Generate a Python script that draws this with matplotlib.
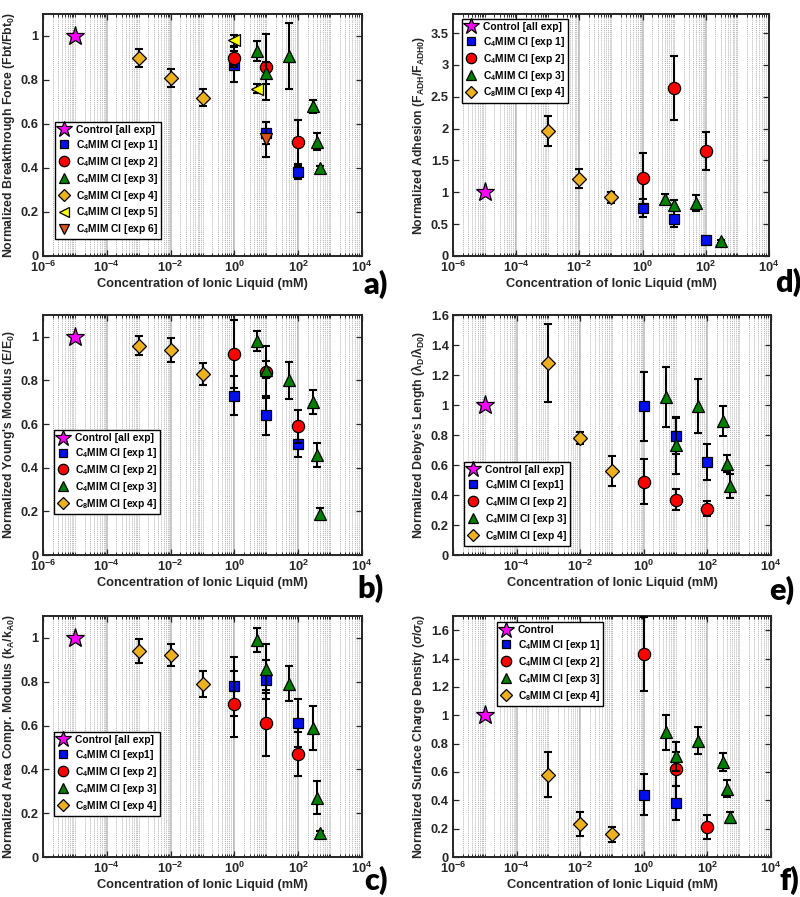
import matplotlib
matplotlib.use("Agg")
import matplotlib.pyplot as plt
from matplotlib.ticker import LogLocator, FixedLocator, FixedFormatter, FormatStrFormatter, NullFormatter, MultipleLocator

plt.rcParams['font.family'] = ['Liberation Sans', 'DejaVu Sans']
plt.rcParams['font.weight'] = 'bold'
plt.rcParams['mathtext.fontset'] = 'custom'
plt.rcParams['mathtext.rm'] = 'Liberation Sans:bold'
plt.rcParams['mathtext.it'] = 'Liberation Sans:italic:bold'
plt.rcParams['mathtext.bf'] = 'Liberation Sans:bold'
plt.rcParams['mathtext.default'] = 'regular'

# ---------------- data ----------------
conc_ctrl = [1e-5]
conc_exp1 = [1, 10, 100]
conc_exp2 = [1, 10, 100]
conc_exp3 = [5, 10, 50, 300, 400, 500]
conc_exp3_d = [5, 10, 50, 300]
conc_exp4 = [1e-3, 1e-2, 1e-1]
conc_exp5 = [1, 5]
conc_exp6 = [1, 10]
conc_exp1_f = [1, 10]

ctrl_val = [1.0]

# a) breakthrough force
a_exp1 = [0.87, 0.56, 0.38]; a_exp1_err = [0.08, 0.05, 0.03]
a_exp2 = [0.90, 0.86, 0.52]; a_exp2_err = [0.03, 0.15, 0.10]
a_exp3 = [0.93, 0.83, 0.91, 0.68, 0.52, 0.40]; a_exp3_err = [0.045, 0.05, 0.15, 0.03, 0.04, 0.01]
a_exp4 = [0.90, 0.81, 0.72]; a_exp4_err = [0.04, 0.04, 0.04]
a_exp5 = [0.98, 0.76]; a_exp5_err = [0.025, 0.02]
a_exp6 = [0.88, 0.53]; a_exp6_err = [0.02, 0.08]

# d) adhesion
d_exp1 = [0.75, 0.58, 0.25]; d_exp1_err = [0.14, 0.12, 0.03]
d_exp2 = [1.22, 2.64, 1.65]; d_exp2_err = [0.40, 0.50, 0.30]
d_exp3 = [0.89, 0.80, 0.83, 0.23]; d_exp3_err = [0.08, 0.08, 0.12, 0.02]
d_exp4 = [1.96, 1.21, 0.92]; d_exp4_err = [0.24, 0.15, 0.09]

# b) Young's modulus
b_exp1 = [0.73, 0.64, 0.51]; b_exp1_err = [0.09, 0.09, 0.06]
b_exp2 = [0.92, 0.84, 0.59]; b_exp2_err = [0.155, 0.12, 0.075]
b_exp3 = [0.98, 0.85, 0.80, 0.70, 0.46, 0.19]; b_exp3_err = [0.045, 0.04, 0.085, 0.055, 0.055, 0.025]
b_exp4 = [0.96, 0.94, 0.83]; b_exp4_err = [0.045, 0.055, 0.05]

# e) Debye length
e_exp1 = [0.99, 0.79, 0.62]; e_exp1_err = [0.23, 0.12, 0.12]
e_exp2 = [0.49, 0.37, 0.31]; e_exp2_err = [0.15, 0.07, 0.05]
e_exp3 = [1.05, 0.73, 0.99, 0.89, 0.61, 0.46]; e_exp3_err = [0.20, 0.19, 0.18, 0.10, 0.06, 0.08]
e_exp4 = [1.28, 0.78, 0.56]; e_exp4_err = [0.26, 0.04, 0.10]

# c) area compressibility modulus
c_exp1 = [0.78, 0.81, 0.61]; c_exp1_err = [0.135, 0.09, 0.11]
c_exp2 = [0.70, 0.61, 0.47]; c_exp2_err = [0.15, 0.15, 0.10]
c_exp3 = [0.99, 0.86, 0.79, 0.59, 0.27, 0.11]; c_exp3_err = [0.055, 0.11, 0.08, 0.10, 0.075, 0.01]
c_exp4 = [0.94, 0.92, 0.79]; c_exp4_err = [0.055, 0.05, 0.06]

# f) surface charge density
f_exp1 = [0.44, 0.38]; f_exp1_err = [0.145, 0.12]
f_exp2 = [1.43, 0.62, 0.21]; f_exp2_err = [0.26, 0.12, 0.085]
f_exp3 = [0.88, 0.71, 0.82, 0.67, 0.48, 0.28]; f_exp3_err = [0.125, 0.10, 0.095, 0.065, 0.06, 0.04]
f_exp4 = [0.58, 0.23, 0.16]; f_exp4_err = [0.16, 0.085, 0.055]

xtick_vals = [1e-6, 1e-4, 1e-2, 1e0, 1e2, 1e4]
xtick_labels = [r'$10^{-6}$', r'$10^{-4}$', r'$10^{-2}$', r'$10^{0}$', r'$10^{2}$', r'$10^{4}$']

lab_ctrl = 'Control [all exp]'
lab1 = 'C$_4$MIM Cl [exp 1]'
lab1b = 'C$_4$MIM Cl [exp1]'
lab2 = 'C$_4$MIM Cl [exp 2]'
lab3 = 'C$_4$MIM Cl [exp 3]'
lab4 = 'C$_8$MIM Cl [exp 4]'
lab5 = 'C$_4$MIM Cl [exp 5]'
lab6 = 'C$_4$MIM Cl [exp 6]'

# ---------------- styles ----------------
ST = {
    'ctrl': dict(marker='*', color='#FF00FF', ms=14),
    'e1': dict(marker='s', color='#0010F0', ms=7),
    'e2': dict(marker='o', color='#FF0000', ms=8.8),
    'e3': dict(marker='^', color='#008000', ms=9),
    'e4': dict(marker='D', color='#EDB120', ms=6.8),
    'e5': dict(marker='<', color='#FFFF00', ms=9),
    'e6': dict(marker='v', color='#D95319', ms=9),
}

W, H = 800, 897
fig = plt.figure(figsize=(W / 100, H / 100), dpi=100)


def make_ax(l, r, t, b):
    return fig.add_axes([l / W, 1 - b / H, (r - l) / W, (b - t) / H])


def series(ax, key, x, y, err, label, z):
    st = ST[key]
    if err is not None:
        ax.errorbar(x, y, yerr=err, fmt='none', ecolor='k', elinewidth=1.5,
                    capsize=2.6, capthick=1.5, zorder=z)
    h, = ax.plot(x, y, linestyle='none', marker=st['marker'], markersize=st['ms'],
                 markerfacecolor=st['color'], markeredgecolor='k', markeredgewidth=0.9,
                 zorder=z + 0.5, label=label)
    return h


def style_ax(ax, ylim, ystep, ylabel, hide_first=False):
    ax.set_xscale('log')
    ax.set_xlim(1e-6, 1e4)
    ax.set_ylim(*ylim)
    ax.xaxis.set_major_locator(FixedLocator(xtick_vals))
    labs = list(xtick_labels)
    if hide_first:
        labs[0] = ''
    ax.xaxis.set_major_formatter(FixedFormatter(labs))
    ax.xaxis.set_minor_locator(LogLocator(base=10, subs=[1, 2, 3, 4, 5, 6, 7, 8, 9], numticks=100))
    ax.xaxis.set_minor_formatter(NullFormatter())
    ax.yaxis.set_major_locator(MultipleLocator(ystep))
    ax.yaxis.set_major_formatter(FormatStrFormatter('%g'))
    ax.grid(True, which='major', axis='x', color='#c8c8c8', linestyle='-', linewidth=1.4, zorder=0)
    ax.grid(True, which='minor', axis='x', color='#b4b4b4', linestyle=(0, (1, 1)), linewidth=0.7, zorder=0)
    ax.set_axisbelow(True)
    ax.tick_params(which='both', direction='in', top=True, right=True, labelsize=9.3, colors='#262626')
    ax.tick_params(which='major', length=4, width=0.9, pad=3)
    ax.tick_params(which='minor', length=2.2, width=0.7)
    for lbl in ax.get_xticklabels() + ax.get_yticklabels():
        lbl.set_fontweight('bold')
    for sp in ax.spines.values():
        sp.set_linewidth(1.4)
        sp.set_color('#262626')
    ax.set_xlabel('Concentration of Ionic Liquid (mM)', fontsize=9.2, fontweight='bold',
                  color='#262626', labelpad=2)
    ax.set_ylabel(ylabel, fontsize=8.8, fontweight='bold', color='#262626', labelpad=3)


def legend(ax, handles, x, y):
    leg = ax.legend(handles=handles, loc='upper left', bbox_to_anchor=(x, y), borderaxespad=0,
                    frameon=True, fancybox=False, edgecolor='k', framealpha=1,
                    handlelength=1.2, handletextpad=0.55, labelspacing=0.28, borderpad=0.3,
                    markerscale=0.85, prop={'weight': 'bold', 'size': 7.4})
    leg.get_frame().set_linewidth(1.0)
    leg.set_zorder(20)
    return leg


def panel_letter(x, y, s):
    fig.text(x / W, 1 - y / H, s, fontsize=22, fontweight='heavy', family=['Lato', 'DejaVu Sans'],
             ha='left', va='center')


# ---------- a ----------
ax = make_ax(43, 362, 14, 256)
hs = [series(ax, 'ctrl', conc_ctrl, ctrl_val, None, lab_ctrl, 3),
      series(ax, 'e1', conc_exp1, a_exp1, a_exp1_err, lab1, 3),
      series(ax, 'e6', conc_exp6, a_exp6, a_exp6_err, lab6, 4),
      series(ax, 'e2', conc_exp2, a_exp2, a_exp2_err, lab2, 5),
      series(ax, 'e3', conc_exp3, a_exp3, a_exp3_err, lab3, 6),
      series(ax, 'e4', conc_exp4, a_exp4, a_exp4_err, lab4, 6),
      series(ax, 'e5', conc_exp5, a_exp5, a_exp5_err, lab5, 7)]
style_ax(ax, (0, 1.1), 0.2, 'Normalized Breakthrough Force (Fbt/Fbt$_0$)')
legend(ax, [hs[0], hs[1], hs[3], hs[4], hs[5], hs[6], hs[2]], 0.038, 0.554)
panel_letter(364, 284, 'a)')

# ---------- d ----------
ax = make_ax(453, 769, 14, 256)
hs = [series(ax, 'ctrl', conc_ctrl, ctrl_val, None, lab_ctrl, 3),
      series(ax, 'e1', conc_exp1, d_exp1, d_exp1_err, lab1, 3),
      series(ax, 'e2', conc_exp2, d_exp2, d_exp2_err, lab2, 4),
      series(ax, 'e3', conc_exp3_d, d_exp3, d_exp3_err, lab3, 5),
      series(ax, 'e4', conc_exp4, d_exp4, d_exp4_err, lab4, 6)]
style_ax(ax, (0, 3.8), 0.5, 'Normalized Adhesion (F$_{ADH}$/F$_{ADH0}$)')
legend(ax, hs, 0.028, 0.98)
panel_letter(775, 282, 'd)')

# ---------- b ----------
ax = make_ax(43, 362, 315, 555)
hs = [series(ax, 'ctrl', conc_ctrl, ctrl_val, None, lab_ctrl, 3),
      series(ax, 'e1', conc_exp1, b_exp1, b_exp1_err, lab1, 3),
      series(ax, 'e2', conc_exp2, b_exp2, b_exp2_err, lab2, 4),
      series(ax, 'e3', conc_exp3, b_exp3, b_exp3_err, lab3, 5),
      series(ax, 'e4', conc_exp4, b_exp4, b_exp4_err, lab4, 6)]
style_ax(ax, (0, 1.1), 0.2, "Normalized Young's Modulus (E/E$_0$)")
legend(ax, hs, 0.034, 0.52)
panel_letter(357, 588, 'b)')

# ---------- e ----------
ax = make_ax(453, 771, 315, 555)
hs = [series(ax, 'ctrl', conc_ctrl, ctrl_val, None, lab_ctrl, 3),
      series(ax, 'e1', conc_exp1, e_exp1, e_exp1_err, lab1b, 3),
      series(ax, 'e2', conc_exp2, e_exp2, e_exp2_err, lab2, 4),
      series(ax, 'e3', conc_exp3, e_exp3, e_exp3_err, lab3, 5),
      series(ax, 'e4', conc_exp4, e_exp4, e_exp4_err, lab4, 6)]
style_ax(ax, (0, 1.6), 0.2, "Normalized Debye's Length ($\\lambda_D$/$\\lambda_{D0}$)", hide_first=True)
legend(ax, hs, 0.035, 0.3875)
panel_letter(769, 590, 'e)')

# ---------- c ----------
ax = make_ax(43, 362, 616, 857)
hs = [series(ax, 'ctrl', conc_ctrl, ctrl_val, None, lab_ctrl, 3),
      series(ax, 'e1', conc_exp1, c_exp1, c_exp1_err, lab1b, 3),
      series(ax, 'e2', conc_exp2, c_exp2, c_exp2_err, lab2, 4),
      series(ax, 'e3', conc_exp3, c_exp3, c_exp3_err, lab3, 5),
      series(ax, 'e4', conc_exp4, c_exp4, c_exp4_err, lab4, 6)]
style_ax(ax, (0, 1.1), 0.2, 'Normalized Area Compr. Modulus (k$_A$/k$_{A0}$)', hide_first=True)
legend(ax, hs, 0.034, 0.519)
panel_letter(364, 880, 'c)')

# ---------- f ----------
ax = make_ax(453, 771, 616, 857)
hs = [series(ax, 'ctrl', conc_ctrl, ctrl_val, None, 'Control', 3),
      series(ax, 'e1', conc_exp1_f, f_exp1, f_exp1_err, lab1, 3),
      series(ax, 'e2', conc_exp2, f_exp2, f_exp2_err, lab2, 4),
      series(ax, 'e3', conc_exp3, f_exp3, f_exp3_err, lab3, 5),
      series(ax, 'e4', conc_exp4, f_exp4, f_exp4_err, lab4, 6)]
style_ax(ax, (0, 1.7), 0.2, 'Normalized Surface Charge Density ($\\mathit{\\sigma}$/$\\mathit{\\sigma}_0$)')
legend(ax, hs, 0.138, 0.975)
panel_letter(779, 880, 'f)')

fig.savefig('out.png', dpi=100)
